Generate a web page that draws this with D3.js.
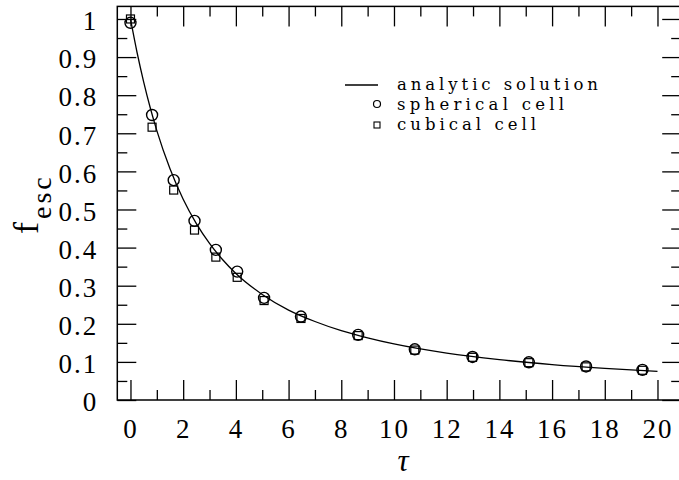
<!DOCTYPE html>
<html>
<head>
<meta charset="utf-8">
<script src="https://cdn.jsdelivr.net/npm/d3@7"></script>
<style>
  body { margin: 0; background: #fff; }
  svg { display: block; }
  text { font-family: "Liberation Serif", "DejaVu Serif", serif; fill: #000; }
</style>
</head>
<body>
<div id="chart"></div>
<script>
// analytic solution
const tauCurve = [0, 0.25, 0.5, 0.75, 1, 1.5, 2, 2.5, 3, 3.5, 4, 5, 6, 7, 8, 9, 10, 12, 14, 16, 18, 20];
const fCurve = [1, 0.912, 0.835, 0.767, 0.707, 0.607, 0.527, 0.463, 0.411, 0.368, 0.332, 0.277, 0.236, 0.206, 0.182, 0.163, 0.147, 0.123, 0.106, 0.093, 0.083, 0.075];

// simulated points
const tauPts = [0.0, 0.82, 1.64, 2.43, 3.24, 4.05, 5.07, 6.47, 8.64, 10.79, 12.98, 15.12, 17.29, 19.43];
const fSpherical = [0.99, 0.748, 0.577, 0.470, 0.394, 0.337, 0.268, 0.219, 0.171, 0.133, 0.113, 0.099, 0.088, 0.079];
const fCubical = [1.0, 0.716, 0.551, 0.446, 0.375, 0.322, 0.261, 0.214, 0.169, 0.131, 0.112, 0.098, 0.087, 0.078];

const xMajor = [0, 2, 4, 6, 8, 10, 12, 14, 16, 18, 20];
const xMinor = [1, 3, 5, 7, 9, 11, 13, 15, 17, 19];
const yMajor = [0, 0.1, 0.2, 0.3, 0.4, 0.5, 0.6, 0.7, 0.8, 0.9, 1];
const yMinor = [0.05, 0.15, 0.25, 0.35, 0.45, 0.55, 0.65, 0.75, 0.85, 0.95];
const legendLabels = ["analytic solution", "spherical cell", "cubical cell"];
const legendWidths = [201, 167, 139];

const W = 679, H = 480;
const svg = d3.select('#chart').append('svg').attr('width', W).attr('height', H);

const x = d3.scaleLinear().domain([-0.5, 20.9]).range([117.3, 681.2]);
const y = d3.scaleLinear().domain([0, 1.033]).range([400, 6.4]);
const x0 = x.range()[0], x1 = x.range()[1], y0 = y.range()[0], y1 = y.range()[1];

const fmtY = d => d === 0 ? "0" : d === 1 ? "1" : d3.format(".1f")(d);

function styleAxis(g) {
  g.select('.domain').remove();
  g.selectAll('.tick line').attr('stroke', '#000').attr('stroke-width', 1.3);
  g.selectAll('text').attr('font-size', 27).attr('letter-spacing', 2)
    .style('font-family', '"Liberation Serif", serif');
}

// bottom
svg.append('g').attr('transform', `translate(0,${y0})`)
  .call(d3.axisBottom(x).tickValues(xMinor).tickSize(-10).tickFormat(''))
  .call(styleAxis);
svg.append('g').attr('transform', `translate(0,${y0})`)
  .call(d3.axisBottom(x).tickValues(xMajor).tickSize(-20).tickPadding(19).tickFormat(d3.format('d')))
  .call(styleAxis);
// top
svg.append('g').attr('transform', `translate(0,${y1})`)
  .call(d3.axisTop(x).tickValues(xMinor).tickSize(-10).tickFormat(''))
  .call(styleAxis);
svg.append('g').attr('transform', `translate(0,${y1})`)
  .call(d3.axisTop(x).tickValues(xMajor).tickSize(-20).tickFormat(''))
  .call(styleAxis);
// left
svg.append('g').attr('transform', `translate(${x0},0)`)
  .call(d3.axisLeft(y).tickValues(yMinor).tickSize(-10).tickFormat(''))
  .call(styleAxis);
svg.append('g').attr('transform', `translate(${x0},0)`)
  .call(d3.axisLeft(y).tickValues(yMajor).tickSize(-19).tickPadding(19).tickFormat(fmtY))
  .call(styleAxis)
  .selectAll('text').attr('dy', '0.4em');
// right
svg.append('g').attr('transform', `translate(${x1},0)`)
  .call(d3.axisRight(y).tickValues(yMinor).tickSize(-10).tickFormat(''))
  .call(styleAxis);
svg.append('g').attr('transform', `translate(${x1},0)`)
  .call(d3.axisRight(y).tickValues(yMajor).tickSize(-19).tickFormat(''))
  .call(styleAxis);

// frame
svg.append('rect').attr('x', x0).attr('y', y1).attr('width', x1 - x0).attr('height', y0 - y1)
  .attr('fill', 'none').attr('stroke', '#000').attr('stroke-width', 1.5);

// curve
const curveData = tauCurve.map((t, i) => ({ t: t, f: fCurve[i] }));
const line = d3.line().x(d => x(d.t)).y(d => y(d.f)).curve(d3.curveMonotoneX);
svg.append('path').datum(curveData).attr('d', line)
  .attr('fill', 'none').attr('stroke', '#000').attr('stroke-width', 1.3);

// squares
const sq = 8;
svg.append('g').selectAll('rect').data(tauPts).join('rect')
  .attr('x', (d, i) => x(d) - sq / 2).attr('y', (d, i) => y(fCubical[i]) - sq / 2)
  .attr('width', sq).attr('height', sq)
  .attr('fill', 'none').attr('stroke', '#000').attr('stroke-width', 1.2);

// circles
svg.append('g').selectAll('circle').data(tauPts).join('circle')
  .attr('cx', d => x(d)).attr('cy', (d, i) => y(fSpherical[i])).attr('r', 5.5)
  .attr('fill', 'none').attr('stroke', '#000').attr('stroke-width', 1.4);

// legend
const lg = svg.append('g');
lg.append('line').attr('x1', 345).attr('x2', 378).attr('y1', 85).attr('y2', 85)
  .attr('stroke', '#000').attr('stroke-width', 1.3);
lg.append('circle').attr('cx', 377).attr('cy', 104).attr('r', 3.5)
  .attr('fill', 'none').attr('stroke', '#000').attr('stroke-width', 1.2);
lg.append('rect').attr('x', 374).attr('y', 122).attr('width', 6).attr('height', 6)
  .attr('fill', 'none').attr('stroke', '#000').attr('stroke-width', 1.1);
lg.selectAll('text').data(legendLabels).join('text')
  .attr('x', 397).attr('y', (d, i) => 90 + i * 20)
  .attr('font-size', 16.5).style('font-family', '"DejaVu Serif", serif')
  .attr('textLength', (d, i) => legendWidths[i]).attr('lengthAdjust', 'spacing')
  .text(d => d);

// axis titles
svg.append('text').attr('x', 403).attr('y', 471).attr('text-anchor', 'middle')
  .attr('font-size', 31).attr('font-style', 'italic').text('τ');

const yt = svg.append('text').attr('transform', 'translate(38,234) rotate(-90)')
  .attr('font-size', 36);
yt.append('tspan').attr('letter-spacing', 3).text('f');
yt.append('tspan').attr('font-size', 28).attr('dy', 13).attr('letter-spacing', 3).text('esc');
</script>
</body>
</html>
